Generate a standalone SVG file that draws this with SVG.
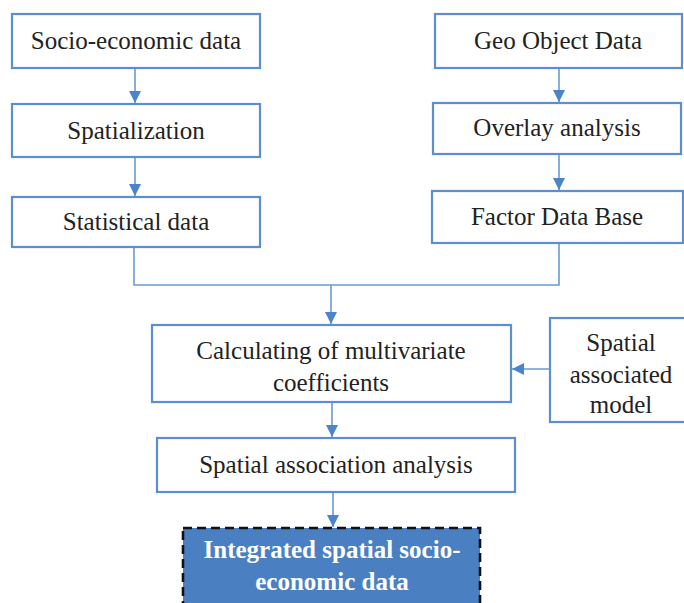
<svg xmlns="http://www.w3.org/2000/svg" width="684" height="603" viewBox="0 0 684 603">
<defs>
<style>
.box{fill:#fff;stroke:#5b8fd1;stroke-width:2.2}
.t{font-family:"Liberation Serif","Times New Roman",serif;font-size:25px;fill:#222;text-anchor:middle}
.tw{font-family:"Liberation Serif","Times New Roman",serif;font-size:25px;font-weight:bold;fill:#fff;text-anchor:middle}
.c{fill:none;stroke:#6a9ad6;stroke-width:1.6}
</style>
<marker id="ah" viewBox="0 0 10 10" refX="10" refY="5" markerWidth="12" markerHeight="12" markerUnits="userSpaceOnUse" orient="auto">
<path d="M0,0 L10,5 L0,10 z" fill="#4a84cc"/>
</marker>
</defs>
<rect width="684" height="603" fill="#fff"/>
<g id="connectors">
<path class="c" d="M135,68 V103" style="marker-end:url(#ah)"/>
<path class="c" d="M135,157 V196" style="marker-end:url(#ah)"/>
<path class="c" d="M559,68 V102" style="marker-end:url(#ah)"/>
<path class="c" d="M559,154 V190" style="marker-end:url(#ah)"/>
<path class="c" d="M134,247 V285 H559 V243"/>
<path class="c" d="M331,285 V324" style="marker-end:url(#ah)"/>
<path class="c" d="M550,369 H512" style="marker-end:url(#ah)"/>
<path class="c" d="M332,402 V437" style="marker-end:url(#ah)"/>
<path class="c" d="M333,492 V527" style="marker-end:url(#ah)"/>
</g>
<g id="socio"><rect class="box" x="12" y="14" width="248" height="54"/><text class="t" x="136" y="49">Socio-economic data</text></g>
<g id="spatialization"><rect class="box" x="12" y="104" width="248" height="53"/><text class="t" x="136" y="139">Spatialization</text></g>
<g id="statistical"><rect class="box" x="12" y="197" width="248" height="50"/><text class="t" x="136" y="230">Statistical data</text></g>
<g id="geo"><rect class="box" x="435" y="14" width="247" height="54"/><text class="t" x="558" y="49">Geo Object Data</text></g>
<g id="overlay"><rect class="box" x="433" y="103" width="248" height="51"/><text class="t" x="557" y="136">Overlay analysis</text></g>
<g id="factor"><rect class="box" x="432" y="191" width="251" height="52"/><text class="t" x="557" y="225">Factor Data Base</text></g>
<g id="calc"><rect class="box" x="152" y="325" width="359" height="77"/><text class="t" x="331" y="359">Calculating of multivariate</text><text class="t" x="331" y="391">coefficients</text></g>
<g id="model"><rect class="box" x="550" y="318" width="140" height="104"/><text class="t" x="621" y="351">Spatial</text><text class="t" x="621" y="383">associated</text><text class="t" x="621" y="413">model</text></g>
<g id="saa"><rect class="box" x="157" y="438" width="358" height="54"/><text class="t" x="336" y="473">Spatial association analysis</text></g>
<g id="integrated"><rect x="183" y="528" width="297" height="80" fill="#4a80c2" stroke="#111" stroke-width="2.6" stroke-dasharray="9,5"/><text class="tw" x="332" y="558">Integrated spatial socio-</text><text class="tw" x="332" y="590">economic data</text></g>
</svg>
